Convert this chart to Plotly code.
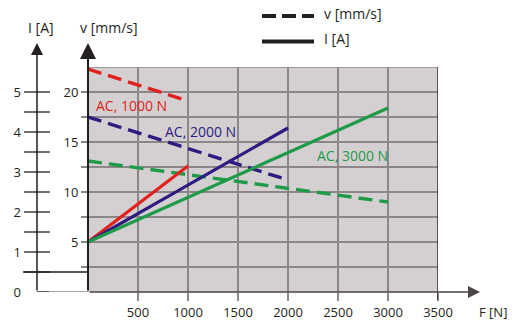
import plotly.graph_objects as go

# ---- data ----
force_N = [0, 1000, 2000, 3000]
series_names = ["AC, 1000 N", "AC, 2000 N", "AC, 3000 N"]
series_fmax = [1000, 2000, 3000]
v_start = [22.3, 17.5, 13.1]      # mm/s at F=0
v_end = [19.1, 11.2, 9.0]         # mm/s at F=max
i_start = [1.25, 1.25, 1.25]      # A at F=0
i_end = [3.15, 4.1, 4.6]          # A at F=max
label_F = [430, 1120, 2640]
label_v = [18.7, 16.1, 13.7]
x_ticks = [500, 1000, 1500, 2000, 2500, 3000, 3500]
v_ticks = [2.5, 5, 7.5, 10, 12.5, 15, 17.5, 20]
v_ticktext = ["", "5", "", "10", "", "15", "", "20"]
i_ticks = [0, 1, 2, 3, 4, 5]
i_minor = [0.5, 1, 1.5, 2, 2.5, 3, 3.5, 4, 4.5, 5]

colors = ["#e2211c", "#2c1c80", "#1f9a48"]
W, H = 520, 324
TXT = "#231f20"
GRID = "#8c8688"
FONT = "Open Sans"


def px(x):
    return x / W


def py(y):
    return 1 - y / H


fig = go.Figure()
for k in range(3):
    fig.add_trace(go.Scatter(x=[0, series_fmax[k]], y=[v_start[k], v_end[k]], mode="lines",
                             line=dict(color=colors[k], width=3.4, dash="14px,7px"),
                             yaxis="y", showlegend=False, hoverinfo="skip"))
    fig.add_trace(go.Scatter(x=[0, series_fmax[k]], y=[i_start[k], i_end[k]], mode="lines",
                             line=dict(color=colors[k], width=3.2),
                             yaxis="y2", showlegend=False, hoverinfo="skip"))

shapes = []
# top border of plot area
shapes.append(dict(type="line", xref="x", yref="y", x0=0, x1=3500, y0=22.5, y1=22.5,
                   line=dict(color=GRID, width=1.5)))
# right border
shapes.append(dict(type="line", xref="x", yref="paper", x0=3500, x1=3500, y0=py(300), y1=py(67),
                   line=dict(color="#3a2a30", width=1.5)))
# I axis ticks crossing the axis
for t in i_minor:
    shapes.append(dict(type="line", xref="paper", yref="y2", x0=px(24), x1=px(50), y0=t, y1=t,
                       line=dict(color=TXT, width=1.3)))
# I=0.5 line to v axis
shapes.append(dict(type="line", xref="paper", yref="y2", x0=px(23), x1=px(88), y0=0.5, y1=0.5,
                   line=dict(color=TXT, width=1.3)))
# bottom at I=0
shapes.append(dict(type="line", xref="paper", yref="y2", x0=px(37), x1=px(49), y0=0, y1=0,
                   line=dict(color=TXT, width=1.5)))
shapes.append(dict(type="line", xref="paper", yref="y2", x0=px(49), x1=px(88), y0=0, y1=0,
                   line=dict(color=GRID, width=1.5)))
# legend lines
shapes.append(dict(type="line", xref="paper", yref="paper", x0=px(262), x1=px(314), y0=py(16), y1=py(16),
                   line=dict(color=TXT, width=4, dash="14px,6px")))
shapes.append(dict(type="line", xref="paper", yref="paper", x0=px(262), x1=px(314), y0=py(41.5), y1=py(41.5),
                   line=dict(color=TXT, width=4)))

ann = []
# axis arrows
ann.append(dict(x=px(37), y=py(43), xref="paper", yref="paper", ax=0, ay=249, text="", showarrow=True,
                arrowhead=2, arrowsize=1.6, arrowwidth=1.5, arrowcolor=TXT))
ann.append(dict(x=px(88), y=py(43), xref="paper", yref="paper", ax=0, ay=249, text="", showarrow=True,
                arrowhead=2, arrowsize=1.6, arrowwidth=2, arrowcolor=TXT))
ann.append(dict(x=px(480), y=py(292), xref="paper", yref="paper", ax=-392, ay=0, text="", showarrow=True,
                arrowhead=2, arrowsize=1.6, arrowwidth=1.5, arrowcolor="#4a4446"))


def text_ann(x, y, s, size=14, color=TXT, xanchor="center", xref="paper", yref="paper"):
    return dict(x=x, y=y, xref=xref, yref=yref, text=s, showarrow=False,
                xanchor=xanchor, yanchor="middle", font=dict(family=FONT, size=size, color=color))


# axis titles
ann.append(text_ann(px(40.5), py(28), "I [A]"))
ann.append(text_ann(px(109), py(28), "v [mm/s]"))
ann.append(text_ann(px(493), py(312), "F [N]", size=13))
# legend texts
ann.append(text_ann(px(322), py(14), "v [mm/s]", xanchor="left"))
ann.append(text_ann(px(322), py(38.5), "I [A]", xanchor="left"))
# series labels
for k in range(3):
    ann.append(text_ann(label_F[k], label_v[k], series_names[k], color=colors[k], xref="x", yref="y"))

fig.update_layout(
    width=W, height=H, template="none",
    margin=dict(l=0, r=0, t=0, b=0),
    paper_bgcolor="white", plot_bgcolor="#d4d0d1",
    showlegend=False,
    font=dict(family=FONT, size=13, color=TXT),
    xaxis=dict(domain=[px(88), px(438)], range=[0, 3500], tickvals=x_ticks,
               ticks="outside", ticklen=8, tickwidth=1.5, tickcolor=GRID,
               showgrid=True, gridcolor=GRID, gridwidth=1.5, zeroline=False, showline=False,
               tickfont=dict(family=FONT, size=13, color=TXT), automargin=False, fixedrange=True),
    yaxis=dict(domain=[py(292), py(67)], range=[0, 22.5], tickvals=v_ticks, ticktext=v_ticktext,
               ticks="outside", ticklen=6, tickwidth=1.5, tickcolor=GRID,
               showgrid=True, gridcolor=GRID, gridwidth=1.5, zeroline=False, showline=False,
               tickfont=dict(family=FONT, size=13, color=TXT), automargin=False, fixedrange=True),
    yaxis2=dict(overlaying="y", anchor="free", position=px(37), side="left",
                range=[0, 5.625], tickvals=i_ticks, ticks="", ticklabelstandoff=16,
                showgrid=False, zeroline=False, showline=False,
                tickfont=dict(family=FONT, size=13, color=TXT), automargin=False, fixedrange=True),
    shapes=shapes, annotations=ann,
)

fig.write_html("out.html")
